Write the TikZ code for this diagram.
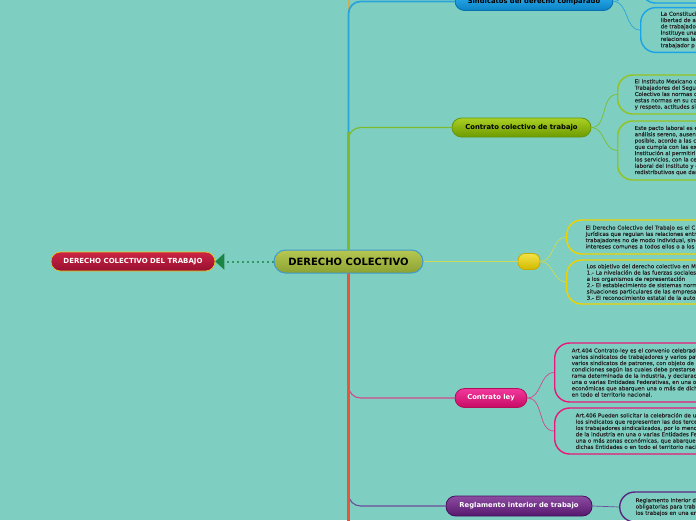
\documentclass[tikz,border=0pt]{standalone}
\usepackage{fontspec}
\setmainfont{DejaVu Sans}
\newfontfamily\notefont[FakeStretch=1.02,FakeBold=0.4]{DejaVu Sans}
\usepackage{tikz}
\usetikzlibrary{arrows.meta,positioning}
\definecolor{bgteal}{HTML}{7ECFC1}
\definecolor{notetext}{HTML}{262626}
\definecolor{cenTop}{HTML}{B6C852}
\definecolor{cenBot}{HTML}{8CA232}
\definecolor{cenEdge}{HTML}{3D9BD0}
\definecolor{redTop}{HTML}{CC2443}
\definecolor{redBot}{HTML}{981030}
\definecolor{redEdge}{HTML}{E6D21E}
\definecolor{bluTop}{HTML}{32B4F2}
\definecolor{bluBot}{HTML}{0A82C6}
\definecolor{bluEdge}{HTML}{0A6FAE}
\definecolor{grnTop}{HTML}{AAD022}
\definecolor{grnBot}{HTML}{6C9A00}
\definecolor{grnEdge}{HTML}{679512}
\definecolor{ylwTop}{HTML}{F2E246}
\definecolor{ylwBot}{HTML}{D2BA00}
\definecolor{ylwEdge}{HTML}{C4AC00}
\definecolor{pnkTop}{HTML}{F2389C}
\definecolor{pnkBot}{HTML}{C60A64}
\definecolor{pnkEdge}{HTML}{AE1058}
\definecolor{prpTop}{HTML}{8C4CA2}
\definecolor{prpBot}{HTML}{56186C}
\definecolor{prpEdge}{HTML}{48105E}
\definecolor{bluLine}{HTML}{2CA4DA}
\definecolor{grnLine}{HTML}{7DBB2C}
\definecolor{ylwLine}{HTML}{CCDA5A}
\definecolor{pnkLine}{HTML}{D2488A}
\definecolor{prpLine}{HTML}{6C4C9C}
\definecolor{orgLine}{HTML}{E9553A}
\definecolor{topLine}{HTML}{F4A21E}
\definecolor{dotGreen}{HTML}{2E9A62}
\definecolor{tipGreen}{HTML}{1B8644}
\definecolor{bluBox}{HTML}{1AA3E8}
\definecolor{grnBox}{HTML}{93C21E}
\definecolor{ylwBox}{HTML}{EED200}
\definecolor{pnkBox}{HTML}{E8187A}
\definecolor{prpBox}{HTML}{5A2580}

\begin{document}
\begin{tikzpicture}[x=1pt,y=-1pt,
  topic/.style={rectangle, rounded corners=9.5pt, draw, line width=0.8pt, inner sep=0pt,
                minimum height=19pt, font=\fontsize{6.8}{7}\selectfont\bfseries},
  note/.style={rectangle, rounded corners=15pt, draw, line width=1.4pt, anchor=west,
               text width=200pt, inner xsep=17pt, inner ysep=4pt, align=left,
               font=\notefont\fontsize{5.4}{6.3}\selectfont, text=notetext},
  twig/.style={line width=0.7pt},
]
\useasboundingbox (0,0) rectangle (696,520);
\fill[bgteal] (0,0) rectangle (696,520);

\node[topic, minimum width=149pt, minimum height=23pt, rounded corners=11.5pt,
      font=\fontsize{10}{11}\selectfont\bfseries, top color=cenTop, bottom color=cenBot,
      draw=cenEdge, line width=1pt] (cen) at (348.5,261.5) {DERECHO COLECTIVO};
\node[topic, minimum width=164pt, top color=redTop, bottom color=redBot, draw=redEdge,
      line width=0.6pt, text=white, font=\fontsize{7}{7}\selectfont\bfseries]
      (dcdt) at (133,261.5) {DERECHO COLECTIVO DEL TRABAJO};

\node[topic, minimum width=158pt, minimum height=18pt, top color=bluTop, bottom color=bluBot, draw=bluEdge]
      (sind) at (534,1.5) {Sindicatos del derecho comparado};
\node[topic, minimum width=139pt, top color=grnTop, bottom color=grnBot, draw=grnEdge]
      (ccol) at (521.5,127.5) {Contrato colectivo de trabajo};
\node[topic, minimum width=22pt, minimum height=16pt, rounded corners=7pt,
      top color=ylwTop, bottom color=ylwBot, draw=ylwEdge] (yel) at (529,261.5) {};
\node[topic, minimum width=72pt, top color=pnkTop, bottom color=pnkBot, draw=pnkEdge, text=white]
      (cley) at (491,398) {Contrato ley};
\node[topic, minimum width=146pt, minimum height=20pt, top color=prpTop, bottom color=prpBot,
      draw=prpEdge, text=white] (regl) at (519,506) {Reglamento interior de trabajo};

\coordinate (high) at (349,-10);
\coordinate (low) at (348.5,530);
\draw[topLine, line width=1.4pt] (cen.north) -- (high);
\draw[bluLine, line width=1.8pt, rounded corners=12pt] (cen.north) |- (sind.west);
\draw[grnLine, line width=1.2pt, rounded corners=12pt] (cen.north) |- (ccol.west);
\draw[grnLine, line width=2.6pt] (cen.north) -- ++(0,-118);
\draw[pnkLine, line width=1.1pt, rounded corners=12pt] (cen.south) |- (cley.west);
\draw[prpLine, line width=1.1pt, rounded corners=12pt] (cen.south) |- (regl.west);
\draw[orgLine, line width=2.8pt] (cen.south) -- (low);
\draw[ylwLine, line width=0.8pt] (cen.east) -- (yel.west);
\draw[dotGreen, line width=2pt, dash pattern=on 2pt off 3pt,
      -{Triangle[width=16pt,length=9pt,color=tipGreen]}] (cen.west) -- (dcdt.east);

\node[note, draw=bluBox, minimum height=46pt] (s1) at (640,-20) {};
\node[note, draw=bluBox, minimum height=44pt, inner xsep=20pt] (s2) at (640,30)
  {La Constituci\\libertad de a\\de trabajado\\Instituye una\\relaciones la\\trabajador p};
\draw[twig, bluLine] (sind.east) to[out=0,in=180] (s1.west);
\draw[twig, bluLine] (sind.east) to[out=0,in=180] (s2.west);

\node[note, draw=grnBox, minimum height=39pt] (g1) at (617,94.5)
  {El Instituto Mexicano d\\Trabajadores del Segu\\Colectivo las normas q\\estas normas en su co\\y respeto, actitudes si};
\node[note, draw=grnBox, minimum height=59pt] (g2) at (617,150.5)
  {Este pacto laboral es e\\an\'alisis sereno, ausent\\posible, acorde a las ci\\que cumpla con las exp\\Instituci\'on al permitirl\\los servicios, con la ce\\laboral del Instituto y e\\redistributivos que dan};
\draw[twig, grnLine] (ccol.east) to[out=0,in=180] (g1.west);
\draw[twig, grnLine] (ccol.east) to[out=0,in=180] (g2.west);

\node[note, draw=ylwBox, minimum height=34pt, inner xsep=19pt] (y1) at (566,237)
  {El Derecho Colectivo del Trabajo es el C\\jur\'idicas que regulan las relaciones entr\\trabajadores no de modo individual, sino\\intereses comunes a todos ellos o a los};
\node[note, draw=ylwBox, minimum height=44pt, inner xsep=20pt] (y2) at (566,282)
  {Los objetivo del derecho colectivo en M\\1.- La nivelaci\'on de las fuerzas sociales\\a los organismos de representaci\'on\\2.- El establecimiento de sistemas norm\\situaciones particulares de las empresas\\3.- El reconocimiento estatal de la auto};
\draw[twig, ylwLine] (yel.east) to[out=0,in=180] (y1.west);
\draw[twig, ylwLine] (yel.east) to[out=0,in=180] (y2.west);

\node[note, draw=pnkBox, minimum height=59pt] (p1) at (554,372.5)
  {Art.404 Contrato-ley es el convenio celebrado\\varios sindicatos de trabajadores y varios pat\\varios sindicatos de patrones, con objeto de e\\condiciones seg\'un las cuales debe prestarse e\\rama determinada de la industria, y declarado\\una o varias Entidades Federativas, en una o\\econ\'omicas que abarquen una o m\'as de dich\\en todo el territorio nacional.};
\node[note, draw=pnkBox, minimum height=46pt, inner xsep=21pt] (p2) at (554,431)
  {Art.406 Pueden solicitar la celebraci\'on de u\\los sindicatos que representen las dos terce\\los trabajadores sindicalizados, por lo meno\\de la industria en una o varias Entidades Fe\\una o m\'as zonas econ\'omicas, que abarque\\dichas Entidades o en todo el territorio nacio};
\draw[twig, pnkLine] (cley.east) to[out=0,in=180] (p1.west);
\draw[twig, pnkLine] (cley.east) to[out=0,in=180] (p2.west);

\node[note, draw=prpBox, minimum height=30pt, inner xsep=16pt] (r1) at (619,507)
  {Reglamento interior d\\obligatorias para trab\\los trabajos en una en};
\draw[twig, prpLine] (regl.east) -- (r1.west);
\end{tikzpicture}
\end{document}
